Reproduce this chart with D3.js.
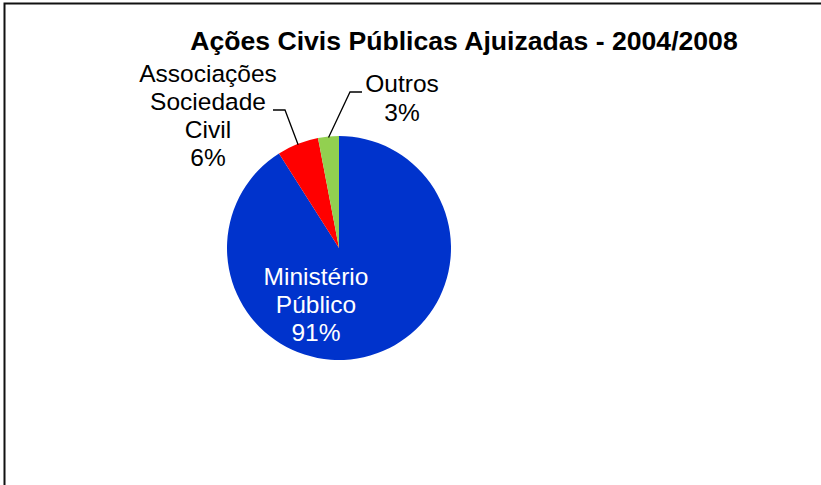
<!DOCTYPE html>
<html>
<head>
<meta charset="utf-8">
<script src="https://cdn.jsdelivr.net/npm/d3@7"></script>
<style>
  html, body { margin: 0; padding: 0; background: #fff; }
  svg { display: block; }
  text { font-family: "Liberation Sans", Arial, sans-serif; }
</style>
</head>
<body>
<svg id="chart" width="821" height="485"></svg>
<script>
// Ações civis públicas ajuizadas por autor, 2004–2008 (%)
const categories = ["Ministério Público", "Associações Sociedade Civil", "Outros"];
const values = [91, 6, 3];
const labelLines = [
  ["Ministério", "Público", "91%"],
  ["Associações", "Sociedade", "Civil", "6%"],
  ["Outros", "3%"]
];
const colors = ["#0033CC", "#FF0000", "#92D050"];
const title = "Ações Civis Públicas Ajuizadas - 2004/2008";

const svg = d3.select("#chart");

// chart frame (extends past the right and bottom edges)
svg.append("rect")
  .attr("x", 4.5).attr("y", 3.5)
  .attr("width", 830).attr("height", 500)
  .attr("fill", "none")
  .attr("stroke", "#111").attr("stroke-width", 2);

svg.append("text")
  .attr("x", 464).attr("y", 50)
  .attr("text-anchor", "middle")
  .attr("font-weight", "bold")
  .attr("font-size", 26.6)
  .attr("fill", "#000")
  .text(title);

const cx = 339, cy = 248, r = 112;
const g = svg.append("g").attr("transform", `translate(${cx},${cy})`);

const pie = d3.pie().sort(null).value(d => d)(values);
const arc = d3.arc().innerRadius(0).outerRadius(r);

g.selectAll("path.slice")
  .data(pie)
  .join("path")
  .attr("class", "slice")
  .attr("d", arc)
  .attr("fill", (d, i) => colors[i]);

// label anchors (centre x, first baseline y), line spacing and text colour
const labelPos = [
  { x: 316, y: 285, fill: "#fff", lh: 28 },
  { x: 208, y: 82, fill: "#000", lh: 28 },
  { x: 402, y: 92, fill: "#000", lh: 29 }
];

labelLines.forEach((lines, i) => {
  const p = labelPos[i];
  const t = svg.append("text")
    .attr("text-anchor", "middle")
    .attr("font-size", 24.5)
    .attr("fill", p.fill);
  lines.forEach((ln, j) => {
    t.append("tspan").attr("x", p.x).attr("y", p.y + j * p.lh).text(ln);
  });
});

// leader lines from the outer labels to their slices
function leader(i, labelX, labelY, elbowX) {
  const d = pie[i];
  const mid = (d.startAngle + d.endAngle) / 2;
  const px = cx + Math.sin(mid) * (r - 1);
  const py = cy - Math.cos(mid) * (r - 1);
  svg.append("polyline")
    .attr("points", `${labelX},${labelY} ${elbowX},${labelY} ${px},${py}`)
    .attr("fill", "none")
    .attr("stroke", "#000")
    .attr("stroke-width", 1.3);
}
leader(1, 273, 110, 285);
leader(2, 362, 92, 350);
</script>
</body>
</html>
